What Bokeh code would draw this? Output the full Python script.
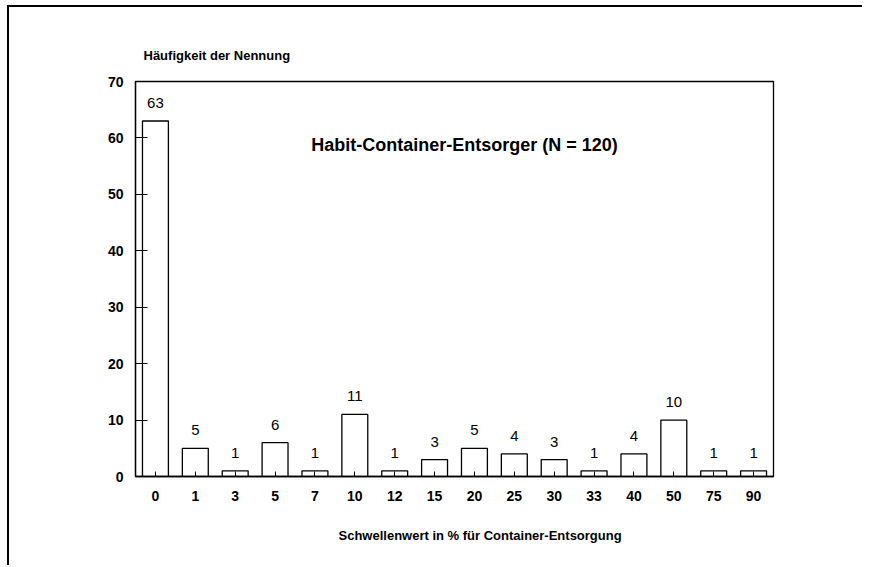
from bokeh.plotting import figure
from bokeh.models import ColumnDataSource, Label, Range1d, FixedTicker, Title
from bokeh.core.properties import value
from bokeh.embed import file_html
from bokeh.resources import INLINE

thresholds = ["0", "1", "3", "5", "7", "10", "12", "15", "20", "25", "30", "33", "40", "50", "75", "90"]
counts = [63, 5, 1, 6, 1, 11, 1, 3, 5, 4, 3, 1, 4, 10, 1, 1]
y_ticks = [0, 10, 20, 30, 40, 50, 60, 70]
chart_title = "Habit-Container-Entsorger (N = 120)"
y_title = "Häufigkeit der Nennung"
x_title = "Schwellenwert in % für Container-Entsorgung"

FONT = "Liberation Sans"

src = ColumnDataSource(dict(x=thresholds, top=counts, label=[str(c) for c in counts]))

p = figure(x_range=thresholds, y_range=Range1d(0, 70),
           width=855, height=560,
           min_border_left=126, min_border_right=91,
           min_border_top=74, min_border_bottom=91,
           output_backend="svg", toolbar_location=None)

p.styles = {"border-left": "2px solid black", "border-top": "2px solid black",
            "margin-left": "7px", "margin-top": "5px"}

p.vbar(x="x", top="top", width=0.65, source=src,
       fill_color="white", line_color="black", line_width=1.3)

p.text(x="x", y="top", text="label", source=src,
       text_align="center", text_baseline="middle", y_offset=-18,
       text_font=value(FONT), text_font_size="15px", text_color="black")

p.xgrid.grid_line_color = None
p.ygrid.grid_line_color = None
p.outline_line_color = "black"
p.outline_line_width = 1.3

p.yaxis.ticker = FixedTicker(ticks=y_ticks)
p.yaxis.minor_tick_line_color = None
p.yaxis.major_tick_in = 12
p.yaxis.major_tick_out = 0
p.yaxis.major_label_standoff = 12
p.xaxis.major_tick_in = 5
p.xaxis.major_tick_out = 0
p.xaxis.major_label_standoff = 14
for ax in (p.xaxis, p.yaxis):
    ax.axis_line_color = "black"
    ax.axis_line_width = 1.3
    ax.major_tick_line_color = "black"
    ax.major_label_text_font = FONT
    ax.major_label_text_font_style = "bold"
    ax.major_label_text_font_size = "14px"
    ax.major_label_text_color = "black"

p.add_layout(Label(x=8.25, y=58.7, text=chart_title, text_align="center",
                   text_baseline="middle", text_font=FONT, text_font_style="bold",
                   text_font_size="18px", text_color="black"))

p.add_layout(Title(text=y_title, align="left", offset=8, standoff=38,
                   text_font=FONT, text_font_style="bold",
                   text_font_size="13px", text_color="black"), "above")
p.add_layout(Title(text=x_title, align="left", offset=203, standoff=45,
                   text_font=FONT, text_font_style="bold",
                   text_font_size="13px", text_color="black"), "below")

open("out.html", "w").write(file_html(p, INLINE))
